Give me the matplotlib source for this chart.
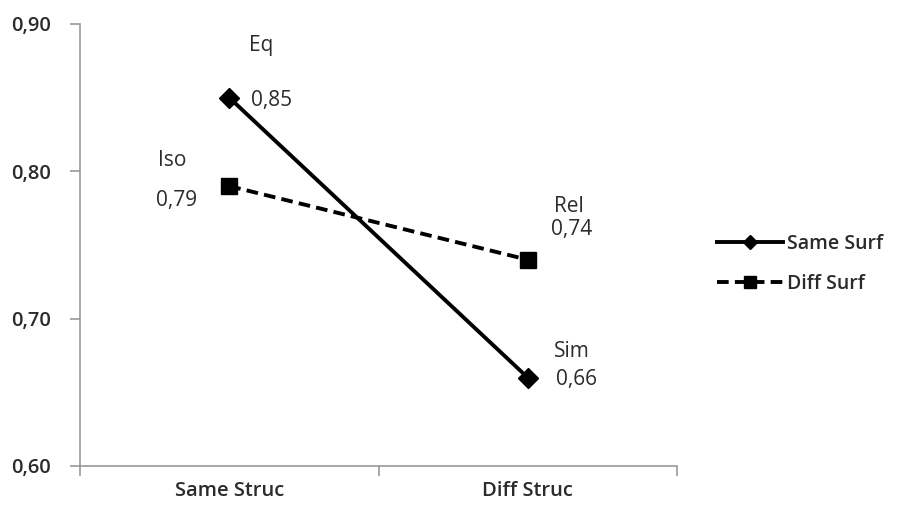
import matplotlib
matplotlib.use("Agg")
import matplotlib.pyplot as plt
from matplotlib.ticker import FuncFormatter

# data
categories = ["Same Struc", "Diff Struc"]
same_surf = [0.85, 0.66]
diff_surf = [0.79, 0.74]
same_names = ["Eq", "Sim"]
diff_names = ["Iso", "Rel"]

plt.rcParams['font.family'] = ['Open Sans', 'DejaVu Sans']
txt = '#2b2b2b'
axc = '#999999'

fig = plt.figure(figsize=(8.97, 5.08), dpi=100)
ax = fig.add_axes([80/897, 1-466/508, 597/897, 442/508])

x = range(len(categories))
ax.plot(x, same_surf, color='black', lw=2.8, marker='D', ms=10, label='Same Surf')
ax.plot(x, diff_surf, color='black', lw=2.8, ls=(0, (3, 1.6)), marker='s', ms=12, label='Diff Surf')

ax.set_xlim(-0.5, 1.5)
ax.set_ylim(0.60, 0.90)
ax.set_yticks([0.60, 0.70, 0.80, 0.90])
ax.yaxis.set_major_formatter(FuncFormatter(lambda v, p: f"{v:.2f}".replace('.', ',')))
ax.set_xticks(list(x))
ax.set_xticklabels(categories, fontweight='semibold')
ax.set_xticks([-0.5, 0.5, 1.5], minor=True)
ax.tick_params(axis='x', which='major', length=0, pad=11, labelsize=14.5, labelcolor=txt)
ax.tick_params(axis='x', which='minor', length=7, color=axc, width=1.2)
ax.tick_params(axis='y', length=7, color=axc, width=1.2, labelsize=14.5, labelcolor=txt, pad=14)
for t in ax.get_yticklabels():
    t.set_fontweight('semibold')
for s in ['top', 'right']:
    ax.spines[s].set_visible(False)
for s in ['left', 'bottom']:
    ax.spines[s].set_color(axc)
    ax.spines[s].set_linewidth(1.2)
ax.spines['left'].set_bounds(0.60, 0.90)

fs = 15
def lab(xv, yv, s, dx, dy, ha='left'):
    ax.annotate(s, (xv, yv), xytext=(dx, dy), textcoords='offset pixels',
                ha=ha, va='center', fontsize=fs, color=txt)

lab(0, same_surf[0], same_names[0], 20, 52)
lab(0, same_surf[0], "0,85", 22, -3)
lab(0, diff_surf[0], diff_names[0], -43, 26, 'right')
lab(0, diff_surf[0], "0,79", -32, -14, 'right')
lab(1, diff_surf[1], diff_names[1], 26, 53)
lab(1, diff_surf[1], "0,74", 23, 30)
lab(1, same_surf[1], same_names[1], 26, 26)
lab(1, same_surf[1], "0,66", 28, -2)

fig.legend(loc='center left', bbox_to_anchor=(699/897, 1-264/508), frameon=False,
           handlelength=3.4, handletextpad=0.25, labelspacing=1.0,
           labelcolor=txt, markerscale=0.75, prop={'weight': 'semibold', 'size': 14})

fig.savefig('out.png', dpi=100)
